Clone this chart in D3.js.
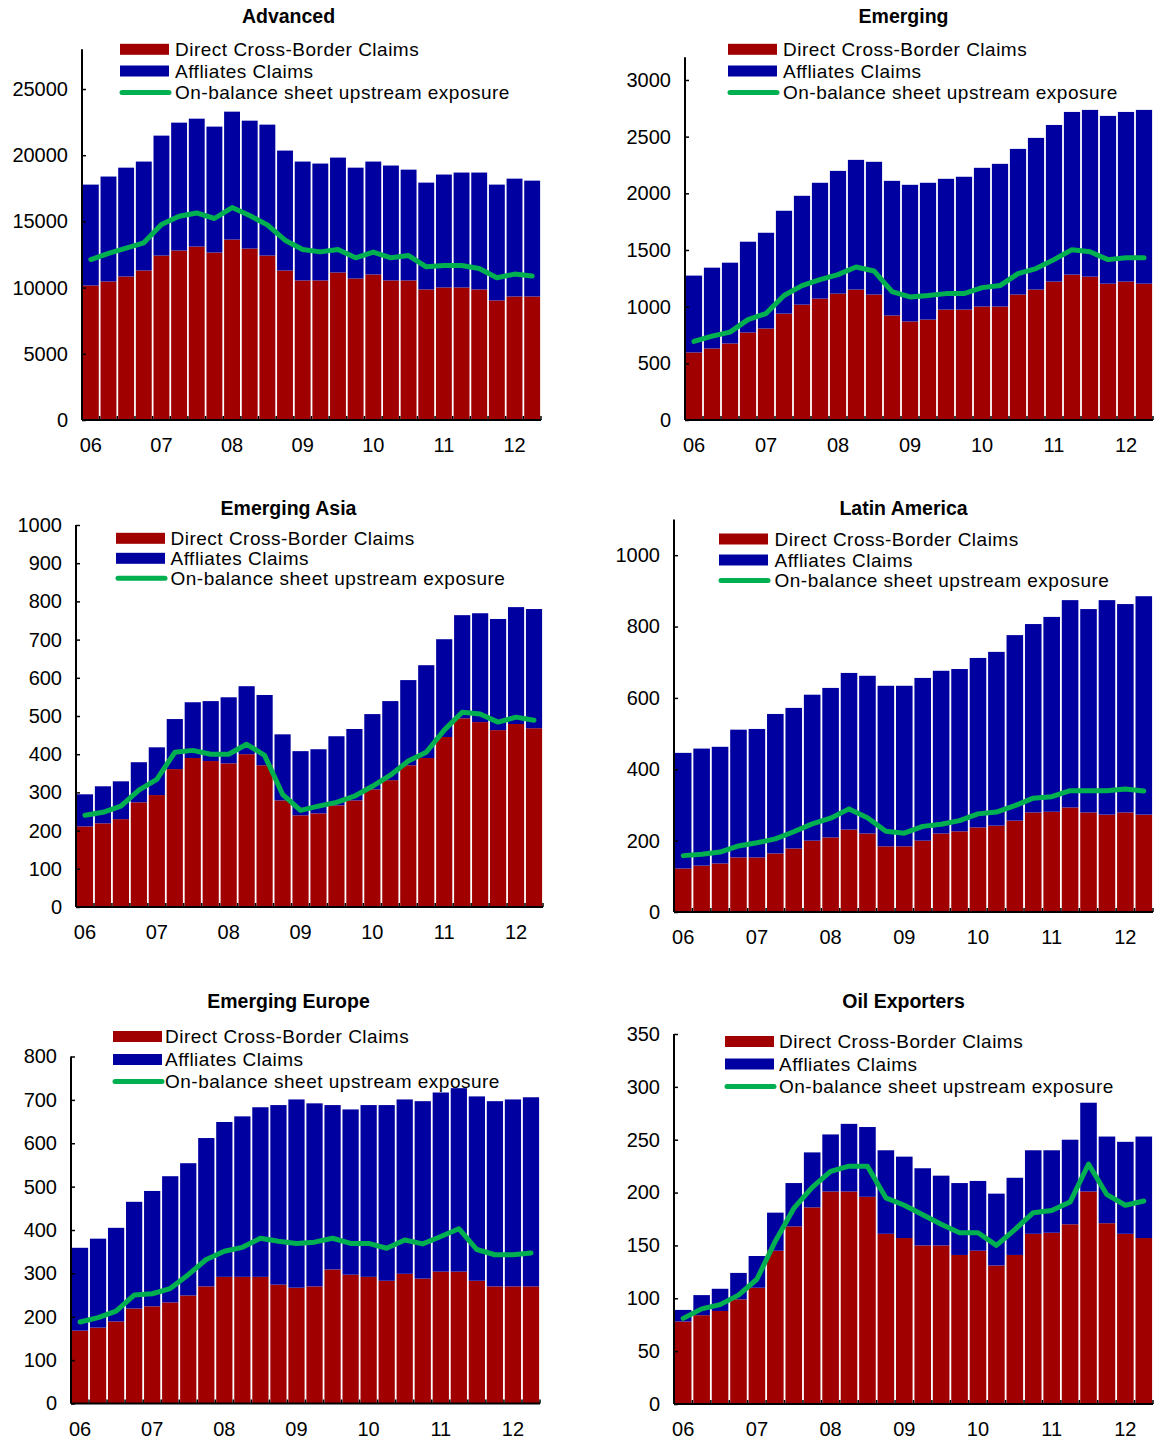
<!DOCTYPE html>
<html>
<head>
<meta charset="utf-8">
<script src="https://cdn.jsdelivr.net/npm/d3@7/dist/d3.min.js"></script>
<style>
  html, body { margin: 0; padding: 0; background: #ffffff; }
  svg { display: block; }
  text { font-family: "Liberation Sans", Arial, sans-serif; fill: #000; }
</style>
</head>
<body>
<svg id="chart" width="1156" height="1442"></svg>
<script>
// ---------------- DATA ----------------
const quarters = ["2006Q1","2006Q2","2006Q3","2006Q4","2007Q1","2007Q2","2007Q3","2007Q4",
  "2008Q1","2008Q2","2008Q3","2008Q4","2009Q1","2009Q2","2009Q3","2009Q4",
  "2010Q1","2010Q2","2010Q3","2010Q4","2011Q1","2011Q2","2011Q3","2011Q4",
  "2012Q1","2012Q2"];
const xTickLabels = ["06","07","08","09","10","11","12"];
const seriesNames = ["Direct Cross-Border Claims","Affliates Claims","On-balance sheet upstream exposure"];

const advancedDirect = [10160,10460,10840,11290,12420,12800,13100,12650,13630,12950,12420,11290,10540,10540,11140,10690,10990,10540,10540,9860,10010,10010,9860,9030,9330,9330];
const advancedAffiliates = [7620,7930,8220,8230,9060,9660,9660,9510,9660,9660,9890,9060,8980,8830,8680,8370,8530,8680,8370,8070,8530,8680,8830,8750,8900,8750];
const advancedUpstream = [12120,12580,12980,13380,14760,15390,15640,15220,16050,15440,14740,13580,12880,12700,12880,12250,12680,12250,12420,11570,11670,11670,11440,10740,11020,10870];
const advancedTicks = [0,5000,10000,15000,20000,25000];

const emergingDirect = [596,631,675,772,807,939,1018,1071,1115,1151,1107,922,869,886,974,974,1001,1001,1107,1151,1221,1283,1265,1203,1221,1203];
const emergingAffiliates = [678,713,713,801,845,907,960,1022,1083,1144,1171,1188,1206,1207,1154,1172,1224,1259,1285,1338,1382,1435,1471,1480,1497,1533];
const emergingUpstream = [693,740,775,886,939,1098,1186,1239,1283,1350,1315,1133,1086,1098,1115,1115,1168,1186,1291,1336,1415,1503,1485,1415,1432,1432];
const emergingTicks = [0,500,1000,1500,2000,2500,3000];

const asiaDirect = [211,219,230,274,293,361,390,382,376,400,371,279,240,245,266,279,308,332,371,390,445,494,484,463,479,468];
const asiaAffiliates = [84,97,99,105,125,131,146,157,173,178,184,173,168,168,181,187,197,207,223,243,256,270,285,291,306,312];
const asiaUpstream = [240,248,264,306,334,405,410,400,400,426,397,295,253,264,274,290,316,345,382,405,463,510,505,484,497,489];
const asiaTicks = [0,100,200,300,400,500,600,700,800,900,1000];

const latamDirect = [122,130,136,153,153,164,178,200,209,231,220,184,184,200,220,226,237,242,256,279,281,293,279,273,279,273];
const latamAffiliates = [324,328,327,358,360,391,394,409,419,439,442,450,450,456,456,455,475,487,520,528,546,581,570,601,584,612];
const latamUpstream = [158,162,168,185,194,205,225,247,263,289,264,226,221,240,246,256,275,280,298,319,323,340,340,340,345,339];
const latamTicks = [0,200,400,600,800,1000];

const europeDirect = [168,175,189,219,224,233,249,270,292,292,292,274,267,270,309,297,292,283,299,288,304,304,283,270,270,270];
const europeAffiliates = [191,205,216,246,266,291,305,342,357,370,391,414,434,422,379,381,396,405,402,409,413,423,425,427,431,436];
const europeUpstream = [188,198,213,250,253,265,297,332,351,360,381,374,369,372,381,369,369,358,377,368,385,403,355,343,343,347];
const europeTicks = [0,100,200,300,400,500,600,700,800];

const oilDirect = [78,84,88,99,110,145,168,186,201,201,196,161,157,150,150,141,145,131,141,161,162,170,201,171,161,157];
const oilAffiliates = [11,19,21,25,30,36,41,52,54,64,66,79,77,73,66,68,66,68,73,79,78,80,84,82,87,96];
const oilUpstream = [81,90,94,103,118,154,185,205,220,225,225,195,188,179,170,162,162,150,165,181,183,191,227,198,188,192];
const oilTicks = [0,50,100,150,200,250,300,350];

// ---------------- LAYOUT ----------------
const colors = { direct: "#a00000", affiliates: "#0000a0", upstream: "#00b050" };

const panels = [
  { title: "Advanced", direct: advancedDirect, aff: advancedAffiliates, up: advancedUpstream, ticks: advancedTicks,
    yMax: 28000, left: 82, right: 541, bottom: 420, top: 49.3, titleX: 288.5, titleY: 16,
    legX: 120, legTextX: 175, legY: [49.3, 71, 92.5] },
  { title: "Emerging", direct: emergingDirect, aff: emergingAffiliates, up: emergingUpstream, ticks: emergingTicks,
    yMax: 3200, left: 685, right: 1153, bottom: 420, top: 57.3, titleX: 903.5, titleY: 16,
    legX: 728, legTextX: 783, legY: [49.3, 71, 92.5] },
  { title: "Emerging Asia", direct: asiaDirect, aff: asiaAffiliates, up: asiaUpstream, ticks: asiaTicks,
    yMax: 1000, left: 76, right: 543, bottom: 907, top: 525, titleX: 288.5, titleY: 508,
    legX: 116, legTextX: 170.5, legY: [538.3, 558.3, 578.3] },
  { title: "Latin America", direct: latamDirect, aff: latamAffiliates, up: latamUpstream, ticks: latamTicks,
    yMax: 1100, left: 674, right: 1153, bottom: 912, top: 519.5, titleX: 903.5, titleY: 508,
    legX: 719, legTextX: 774.5, legY: [539, 560, 580.5] },
  { title: "Emerging Europe", direct: europeDirect, aff: europeAffiliates, up: europeUpstream, ticks: europeTicks,
    yMax: 800, left: 71, right: 540, bottom: 1403.5, top: 1056.5, titleX: 288.5, titleY: 1001,
    legX: 113, legTextX: 165, legY: [1036.5, 1059.5, 1081.5] },
  { title: "Oil Exporters", direct: oilDirect, aff: oilAffiliates, up: oilUpstream, ticks: oilTicks,
    yMax: 350, left: 674, right: 1153, bottom: 1404, top: 1034, titleX: 903.5, titleY: 1001,
    legX: 725, legTextX: 779, legY: [1041.5, 1064, 1086.5] }
];

const svg = d3.select("#chart");

panels.forEach(p => {
  const g = svg.append("g");
  const x = d3.scaleBand().domain(quarters).range([p.left, p.right]).paddingInner(0.1).paddingOuter(0.05);
  const y = d3.scaleLinear().domain([0, p.yMax]).range([p.bottom, p.top]);

  const rows = quarters.map((q, i) => ({ q, d: p.direct[i], a: p.aff[i], u: p.up[i] }));
  const stack = d3.stack().keys(["d", "a"])(rows);

  // bars
  const barColors = [colors.direct, colors.affiliates];
  stack.forEach((layer, li) => {
    g.append("g").selectAll("rect").data(layer).join("rect")
      .attr("x", d => x(d.data.q))
      .attr("width", x.bandwidth())
      .attr("y", d => y(d[1]))
      .attr("height", d => y(d[0]) - y(d[1]))
      .attr("fill", barColors[li]);
  });

  // line
  const line = d3.line()
    .x(d => x(d.q) + x.bandwidth() / 2)
    .y(d => y(d.u));
  g.append("path").datum(rows)
    .attr("d", line)
    .attr("fill", "none")
    .attr("stroke", colors.upstream)
    .attr("stroke-width", 5)
    .attr("stroke-linejoin", "round")
    .attr("stroke-linecap", "round");

  // y axis
  const yAxis = d3.axisLeft(y).tickValues(p.ticks).tickSize(-4).tickPadding(14).tickFormat(d3.format("d"));
  const ya = g.append("g").attr("transform", `translate(${p.left},0)`).call(yAxis);
  ya.select(".domain").attr("stroke", "#000").attr("stroke-width", 2)
    .attr("d", `M0,${p.bottom}V${p.top}`);
  ya.selectAll(".tick line").attr("stroke", "#000").attr("stroke-width", 1.5);
  ya.selectAll(".tick text").style("font-size", "20px").style("font-family", '"Liberation Sans", Arial, sans-serif')
    .attr("fill", "#000");

  // x axis: baseline + boundary ticks
  const step = x.step();
  const boundaries = d3.range(quarters.length + 1).map(i => p.left + i * (p.right - p.left) / quarters.length);
  g.append("line")
    .attr("x1", p.left).attr("x2", p.right)
    .attr("y1", p.bottom).attr("y2", p.bottom)
    .attr("stroke", "#000").attr("stroke-width", 2);
  g.append("g").selectAll("line").data(boundaries).join("line")
    .attr("x1", d => d).attr("x2", d => d)
    .attr("y1", p.bottom).attr("y2", p.bottom - 4)
    .attr("stroke", "#000").attr("stroke-width", 1.5);

  // x labels at Q1 of each year
  g.append("g").selectAll("text").data(xTickLabels).join("text")
    .attr("x", (d, i) => x(quarters[i * 4]) + x.bandwidth() / 2)
    .attr("y", p.bottom + 25)
    .attr("text-anchor", "middle")
    .attr("dominant-baseline", "central")
    .style("font-size", "20px")
    .text(d => d);

  // title
  g.append("text")
    .attr("x", p.titleX).attr("y", p.titleY)
    .attr("text-anchor", "middle")
    .attr("dominant-baseline", "central")
    .style("font-size", "19.5px").style("font-weight", "bold")
    .text(p.title);

  // legend
  const leg = g.append("g");
  leg.append("rect").attr("x", p.legX).attr("y", p.legY[0] - 5.5).attr("width", 49).attr("height", 11).attr("fill", colors.direct);
  leg.append("rect").attr("x", p.legX).attr("y", p.legY[1] - 5.5).attr("width", 49).attr("height", 11).attr("fill", colors.affiliates);
  leg.append("line").attr("x1", p.legX + 2).attr("x2", p.legX + 49).attr("y1", p.legY[2]).attr("y2", p.legY[2])
    .attr("stroke", colors.upstream).attr("stroke-width", 5).attr("stroke-linecap", "round");
  seriesNames.forEach((name, i) => {
    leg.append("text")
      .attr("x", p.legTextX).attr("y", p.legY[i])
      .attr("dominant-baseline", "central")
      .style("font-size", "19px")
      .style("letter-spacing", "0.5px")
      .text(name);
  });
});
</script>
</body>
</html>
